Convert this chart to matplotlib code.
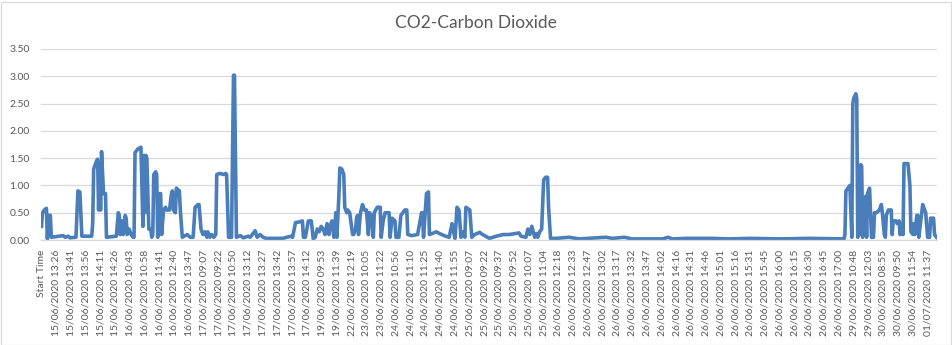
import numpy as np
import matplotlib
matplotlib.use("Agg")
import matplotlib.pyplot as plt
from matplotlib.patches import Rectangle

plt.rcParams['font.family'] = ['Lato', 'DejaVu Sans']

# minute index of each reading (one reading per minute) and the CO2 value there
idx = [0, 1, 3, 5, 6, 7, 9, 10, 22, 24, 27, 29, 35, 37, 39, 41, 51, 52, 53, 56,
       57, 58, 59, 60, 61, 63, 65, 66, 76, 78, 79, 80, 82, 83, 85, 86, 87, 89, 91, 93,
       94, 95, 98, 101, 103, 104, 105, 106, 107, 109, 111, 112, 113, 114, 116, 117, 118, 120, 121, 122,
       124, 126, 127, 130, 132, 133, 134, 136, 137, 140, 141, 143, 148, 151, 154, 156, 159, 160, 162, 164,
       166, 168, 169, 171, 173, 175, 177, 178, 181, 185, 187, 188, 190, 193, 195, 196, 198, 202, 205, 210,
       212, 217, 219, 222, 225, 228, 245, 249, 254, 255, 258, 262, 265, 266, 268, 271, 274, 276, 278, 280,
       282, 284, 286, 288, 290, 292, 293, 295, 297, 299, 300, 302, 303, 305, 307, 308, 310, 311, 313, 316,
       317, 319, 320, 321, 322, 324, 326, 328, 330, 332, 333, 335, 337, 338, 341, 344, 345, 347, 349, 353,
       354, 356, 359, 360, 363, 365, 367, 369, 371, 372, 376, 382, 386, 387, 388, 391, 393, 394, 397, 401,
       404, 409, 414, 417, 418, 420, 422, 424, 426, 428, 430, 431, 435, 437, 440, 445, 448,
       455, 462, 469, 475, 482, 485, 487, 492, 494, 496, 498, 501, 503, 504, 506, 508, 510, 512, 514, 515,
       517, 523, 536, 546, 573, 580, 592, 600, 631, 636, 641, 655, 668, 682, 698,
       720, 750, 780, 815, 816, 817, 819, 821, 823, 824, 825, 827, 828, 829, 830, 831, 832, 833, 834, 835,
       837, 838, 839, 841, 843, 845, 846, 848, 851, 853, 854, 856, 857, 858, 860, 863, 864, 865, 868, 869,
       871, 872, 874, 875, 876, 878, 880, 882, 883, 885, 886, 887, 889, 890, 891, 893, 895, 898, 900, 902,
       903, 906, 907, 909]

co2 = [0.25, 0.50, 0.55, 0.58, 0.02, 0.45, 0.45, 0.05, 0.08, 0.05, 0.07, 0.04, 0.05, 0.90, 0.88, 0.07, 0.07, 0.30, 1.30, 1.45,
       1.48, 0.55, 1.40, 0.55, 1.62, 0.85, 0.85, 0.05, 0.07, 0.50, 0.45, 0.10, 0.35, 0.10, 0.45, 0.40, 0.10, 0.20, 0.10, 0.05,
       0.05, 1.60, 1.67, 1.70, 0.25, 1.55, 0.50, 1.55, 1.50, 0.20, 0.20, 0.05, 0.10, 1.20, 1.25, 1.20, 0.05, 0.85, 0.85, 0.10,
       0.55, 0.60, 0.55, 0.55, 0.85, 0.90, 0.55, 0.50, 0.95, 0.90, 0.55, 0.05, 0.10, 0.05, 0.05, 0.60, 0.65, 0.65, 0.20, 0.10,
       0.15, 0.05, 0.15, 0.05, 0.10, 0.05, 0.10, 1.20, 1.22, 1.20, 1.22, 1.20, 0.05, 0.05, 3.02, 3.02, 0.05, 0.08, 0.04, 0.07,
       0.05, 0.17, 0.05, 0.10, 0.05, 0.03, 0.03, 0.05, 0.07, 0.05, 0.32, 0.33, 0.35, 0.05, 0.05, 0.35, 0.35, 0.02, 0.05, 0.20,
       0.15, 0.25, 0.20, 0.10, 0.30, 0.10, 0.25, 0.35, 0.05, 0.50, 0.05, 0.80, 1.32, 1.30, 1.20, 0.60, 0.50, 0.55, 0.50, 0.10,
       0.10, 0.20, 0.40, 0.45, 0.10, 0.50, 0.65, 0.55, 0.55, 0.10, 0.50, 0.45, 0.05, 0.50, 0.60, 0.60, 0.05, 0.35, 0.50, 0.50,
       0.05, 0.40, 0.35, 0.05, 0.05, 0.45, 0.50, 0.55, 0.55, 0.10, 0.08, 0.10, 0.50, 0.50, 0.05, 0.85, 0.88, 0.10, 0.12, 0.15,
       0.12, 0.08, 0.05, 0.30, 0.20, 0.03, 0.60, 0.55, 0.05, 0.15, 0.05, 0.60, 0.55, 0.05, 0.10, 0.14, 0.10,
       0.03, 0.07, 0.10, 0.10, 0.12, 0.13, 0.07, 0.05, 0.20, 0.10, 0.25, 0.05, 0.12, 0.05, 0.15, 0.20, 1.10, 1.15, 1.15, 0.60,
       0.03, 0.03, 0.05, 0.02, 0.05, 0.03, 0.05, 0.02, 0.02, 0.05, 0.02, 0.03, 0.03, 0.03, 0.02,
       0.03, 0.02, 0.03, 0.02, 0.10, 0.90, 0.95, 1.00, 0.05, 2.50, 2.60, 2.68, 2.60, 0.05, 1.35, 0.10, 1.38, 1.35, 0.05, 0.60,
       0.80, 0.05, 0.85, 0.95, 0.05, 0.05, 0.50, 0.50, 0.55, 0.65, 0.50, 0.10, 0.05, 0.45, 0.55, 0.55, 0.10, 0.35, 0.35, 0.30,
       0.35, 0.10, 0.30, 0.10, 1.40, 1.40, 1.40, 1.00, 0.15, 0.10, 0.30, 0.10, 0.45, 0.45, 0.05, 0.35, 0.65, 0.50, 0.05, 0.05,
       0.40, 0.40, 0.10, 0.05]

# category labels Excel shows (every 15th reading)
tick_labels = ["Start Time",
               "15/06/2020 13:26", "15/06/2020 13:41", "15/06/2020 13:56", "15/06/2020 14:11", "15/06/2020 14:26",
               "16/06/2020 10:43", "16/06/2020 10:58", "16/06/2020 11:41", "16/06/2020 12:40", "16/06/2020 13:47",
               "17/06/2020 09:07", "17/06/2020 09:22", "17/06/2020 10:50", "17/06/2020 13:12", "17/06/2020 13:27",
               "17/06/2020 13:42", "17/06/2020 13:57", "17/06/2020 14:12", "19/06/2020 09:53", "19/06/2020 11:39",
               "22/06/2020 12:19", "23/06/2020 10:05", "23/06/2020 11:22", "24/06/2020 10:56", "24/06/2020 11:10",
               "24/06/2020 11:25", "24/06/2020 11:40", "24/06/2020 11:55", "25/06/2020 09:07", "25/06/2020 09:22",
               "25/06/2020 09:37", "25/06/2020 09:52", "25/06/2020 10:07", "25/06/2020 11:04", "26/06/2020 12:18",
               "26/06/2020 12:33", "26/06/2020 12:47", "26/06/2020 13:02", "26/06/2020 13:17", "26/06/2020 13:32",
               "26/06/2020 13:47", "26/06/2020 14:02", "26/06/2020 14:16", "26/06/2020 14:31", "26/06/2020 14:46",
               "26/06/2020 15:01", "26/06/2020 15:16", "26/06/2020 15:31", "26/06/2020 15:45", "26/06/2020 16:00",
               "26/06/2020 16:15", "26/06/2020 16:30", "26/06/2020 16:45", "26/06/2020 17:00", "29/06/2020 10:48",
               "29/06/2020 12:03", "30/06/2020 08:55", "30/06/2020 09:50", "30/06/2020 11:54", "01/07/2020 11:37"]
tick_step = 15
n_cat = 910

fig = plt.figure(figsize=(9.52, 3.45), dpi=100)
ax = fig.add_axes([41 / 952, 1 - 240 / 345, 896 / 952, 191 / 345])

ax.plot(idx, co2, color="#4a7ebb", linewidth=2.6, solid_joinstyle="round")

ax.set_xlim(-0.5, n_cat - 0.5)
ax.set_ylim(0, 3.5)
ax.set_yticks(np.arange(0, 3.51, 0.5))
ax.set_yticklabels(["{:.2f}".format(v) for v in np.arange(0, 3.51, 0.5)])
ax.set_xticks(np.arange(len(tick_labels)) * tick_step)
ax.set_xticklabels(tick_labels, rotation=90)
ax.tick_params(axis="both", length=0, colors="#595959", labelsize=7.5)
ax.tick_params(axis="x", pad=7)
ax.tick_params(axis="y", pad=8)

ax.grid(axis="y", color="#d9d9d9", linewidth=0.9)
ax.set_axisbelow(True)
for side in ["top", "right", "left"]:
    ax.spines[side].set_visible(False)
ax.spines["bottom"].set_color("#d9d9d9")
ax.spines["bottom"].set_linewidth(0.9)

fig.text(476 / 952, 1 - 23 / 345, "CO2-Carbon Dioxide", ha="center", va="center",
         fontsize=12.5, color="#595959")

# thin grey chart border
fig.patches.append(Rectangle((0.5 / 952, 0.5 / 345), 950 / 952, 343 / 345, transform=fig.transFigure,
                             fill=False, edgecolor="#d9d9d9", linewidth=0.9))

fig.savefig("out.png", dpi=100)
